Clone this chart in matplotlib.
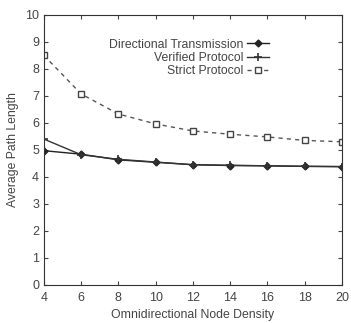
import numpy as np
import matplotlib.pyplot as plt

plt.rcParams['font.family'] = ['Liberation Sans', 'DejaVu Sans']

density = [4, 6, 8, 10, 12, 14, 16, 18, 20]
directional = [4.97, 4.84, 4.63, 4.54, 4.45, 4.42, 4.41, 4.39, 4.38]
verified = [5.4, 4.82, 4.65, 4.55, 4.45, 4.43, 4.41, 4.39, 4.38]
strict = [8.5, 7.07, 6.33, 5.96, 5.7, 5.58, 5.48, 5.35, 5.3]

txt = '#444444'
fig = plt.figure(figsize=(3.51, 3.23), dpi=100)
ax = fig.add_axes([0.125, 0.118, 0.849, 0.836])

ax.plot(density, directional, color='#222222', lw=1.0, marker='D', ms=3.5,
        mfc='#222222', label='Directional Transmission')
ax.plot(density, verified, color='#333333', lw=1.0, marker='+', ms=6, mew=1.2,
        label='Verified Protocol')
ax.plot(density, strict, color='#555555', lw=1.0, ls=(0, (3, 3)), marker='s', ms=5,
        mfc='white', mec='#444444', label='Strict Protocol')

ax.set_xlim(4, 20)
ax.set_ylim(0, 10)
ax.set_xticks(density)
ax.set_yticks(range(0, 11))
ax.tick_params(direction='in', top=True, right=True, length=3, labelsize=9,
               colors=txt, labelcolor=txt)
ax.tick_params(axis='x', pad=5)
for s in ax.spines.values():
    s.set_color('#333333')
ax.set_xlabel('Omnidirectional Node Density', fontsize=8.8, color=txt)
ax.set_ylabel('Average Path Length', fontsize=8.8, color=txt)

leg = ax.legend(loc='upper right', bbox_to_anchor=(0.775, 0.935), frameon=False,
                markerfirst=False, fontsize=8.8, handlelength=1.8,
                handletextpad=0.3, labelspacing=0.12, borderpad=0)
for t in leg.get_texts():
    t.set_color(txt)
    t.set_ha('right')
leg._legend_box.align = 'right'

fig.savefig('out.png', dpi=100)
